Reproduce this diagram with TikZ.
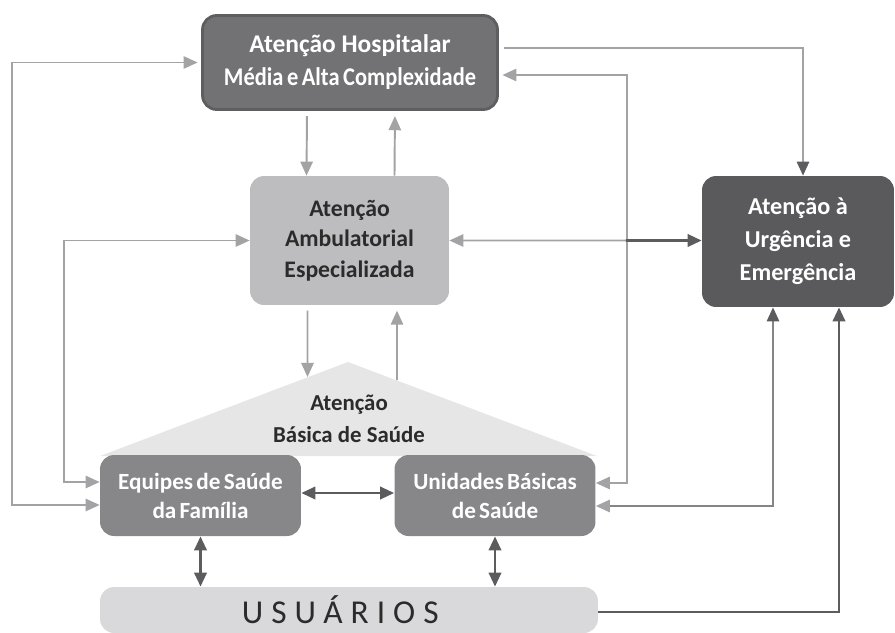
\documentclass[tikz,border=0pt]{standalone}
\usepackage{fontspec}
\setmainfont{Carlito}
\usepackage{tikz}
\usetikzlibrary{arrows.meta}
\usetikzlibrary{positioning}
\usetikzlibrary{calc}

\definecolor{hospfill}{HTML}{727274}
\definecolor{hospedge}{HTML}{5E5E60}
\definecolor{ambfill}{HTML}{BDBDBF}
\definecolor{urgfill}{HTML}{5A5A5C}
\definecolor{basfill}{HTML}{87878A}
\definecolor{usufill}{HTML}{D9D9DB}
\definecolor{rooffill}{HTML}{E6E6E7}
\definecolor{arrlight}{HTML}{A3A3A5}
\definecolor{arrmid}{HTML}{858587}
\definecolor{arrdark}{HTML}{5C5C5E}
\definecolor{txtdark}{HTML}{2B2B2B}

\newcommand{\tightsp}{\spaceskip=0.14em\relax}

\tikzset{
    anybox/.style={rounded corners=8pt, align=center, inner sep=0pt},
    hospbox/.style={anybox, fill=hospfill, draw=hospedge, line width=1.6pt,
        text=white, font=\fontsize{14.5}{18.8}\selectfont\bfseries,
        minimum width=5.9cm, minimum height=1.88cm},
    ambbox/.style={anybox, fill=ambfill, text=txtdark,
        font=\fontsize{13.5}{17.4}\selectfont\bfseries,
        minimum width=3.98cm, minimum height=2.58cm},
    urgbox/.style={anybox, fill=urgfill, text=white,
        font=\fontsize{13.8}{18.8}\selectfont\bfseries,
        minimum width=3.84cm, minimum height=2.62cm},
    basbox/.style={anybox, fill=basfill, text=white,
        font={\fontsize{13.2}{16.5}\selectfont\bfseries\tightsp},
        minimum width=4.02cm, minimum height=1.62cm},
    usubox/.style={anybox, fill=usufill, text=txtdark,
        font={\fontsize{19}{20}\selectfont\addfontfeature{LetterSpace=24}},
        minimum width=9.96cm, minimum height=0.92cm},
    ltip/.tip={Triangle[length=8pt, width=7pt, color=arrlight]},
    dtip/.tip={Triangle[length=8pt, width=7pt, color=arrdark]},
    lightline/.style={draw=arrlight, line width=1.1pt},
    midline/.style={draw=arrmid, line width=1.2pt},
    darkline/.style={draw=arrdark, line width=1.6pt},
}

\begin{document}
\begin{tikzpicture}[x=0.02cm, y=-0.02cm]
    \useasboundingbox (0,0) rectangle (895,632);
    \clip (0,0) rectangle (895,632);
    % roof of the basic care level
    \coordinate (eaveL) at (100,456);
    \coordinate (apex) at (348,362);
    \coordinate (eaveR) at (597,456);
    \fill[rooffill] (eaveL) -- (apex) -- (eaveR) -- cycle;
    \node[text=txtdark, align=center, font=\fontsize{13}{18.2}\selectfont\bfseries] (abs) at (349,419)
        {Atenção\\Básica de Saúde};
    \coordinate (roofin) at (307.5,377);
    \coordinate (roofout) at (397,380);
    % lanes for the long connectors
    \coordinate (laneA) at (12,300);
    \coordinate (laneB) at (64,350);
    \coordinate (laneC) at (627,300);
    %
    \node[hospbox] (hosp) at (350,62.5)
        {Atenção Hospitalar\\{\addfontfeature{FakeStretch=0.88}\tightsp Média e Alta Complexidade}};
    \node[ambbox] (amb) at (349.5,240.5) {Atenção\\Ambulatorial\\Especializada};
    \node[urgbox] (urg) at (798,241.5) {Atenção à\\Urgência e\\Emergência};
    \node[basbox] (esf) at (200.5,495.5) {Equipes de Saúde\\da Família};
    \node[basbox] (ubs) at (495,495.5) {Unidades Básicas\\de Saúde};
    \node[usubox] (usu) at (349,610) {USUÁRIOS\hspace{0.35cm}};
    %
    \draw[lightline, ltip-ltip, shorten <=2pt] (hosp.west) -| (laneA) |- ([yshift=-0.19cm]esf.west);
    \draw[lightline, ltip-ltip] (amb.west) -| (laneB) |- ([yshift=0.27cm]esf.west);
    \draw[lightline, -ltip, shorten <=3pt] ([xshift=-0.86cm]hosp.south) -- ([xshift=-0.86cm]amb.north);
    \draw[lightline, -ltip, shorten >=3pt] ([xshift=0.9cm]amb.north) -- ([xshift=0.9cm]hosp.south);
    \draw[lightline, -ltip, shorten <=3pt] ([xshift=-0.84cm]amb.south) -- (roofin);
    \draw[lightline, -ltip, shorten >=3pt] (roofout) -- ([xshift=0.95cm]amb.south);
    %
    \draw[lightline, -dtip, shorten <=3pt] ([yshift=0.29cm]hosp.east) -| ([xshift=0.1cm]urg.north);
    \draw[lightline, ltip-ltip, shorten <=2pt] ([yshift=-0.25cm]hosp.east) -| (laneC) |- ([yshift=0.25cm]ubs.east);
    \coordinate (ambmid) at ($(amb.east)!0.7!(amb.east -| urg.west)$);
    \draw[lightline, ltip-] (amb.east) -- (ambmid);
    \draw[darkline, -dtip] (ambmid) -- (amb.east -| urg.west);
    \draw[midline, ltip-dtip] ([yshift=-0.21cm]ubs.east) -| ([xshift=-0.5cm]urg.south);
    \draw[darkline, -dtip] ([yshift=-0.04cm]usu.east) -| ([xshift=0.82cm]urg.south);
    %
    \draw[darkline, dtip-dtip] ([yshift=0.05cm]esf.east) -- ([yshift=0.05cm]ubs.west);
    \draw[darkline, dtip-dtip] (esf.south) -- (esf.south |- usu.north);
    \draw[darkline, dtip-dtip] (ubs.south) -- (ubs.south |- usu.north);
\end{tikzpicture}
\end{document}
